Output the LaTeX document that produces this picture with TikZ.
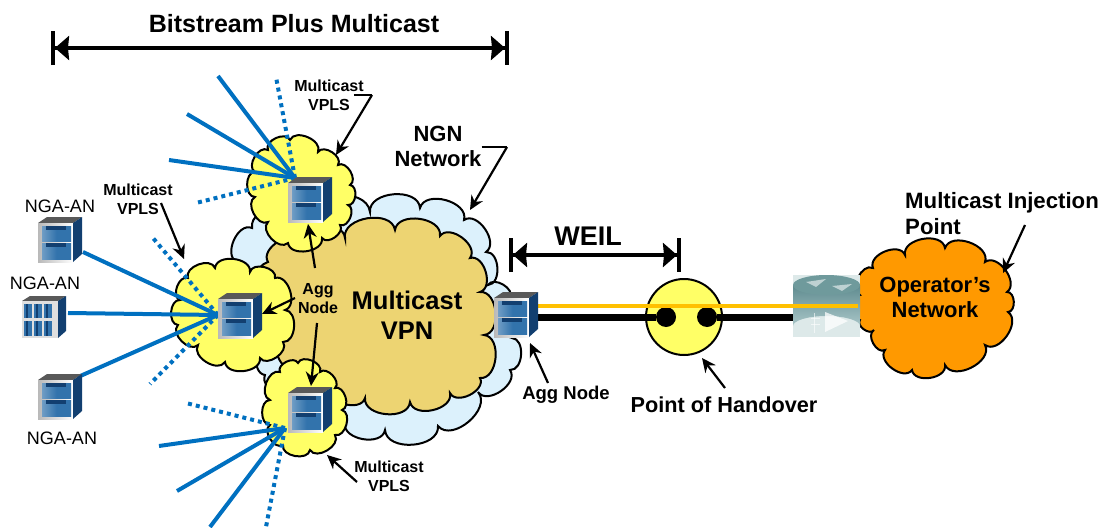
\documentclass[tikz,border=0pt]{standalone}
\usepackage{fontspec}
\setmainfont{Liberation Sans}
\usetikzlibrary{arrows.meta,calc}
\definecolor{lblue}{HTML}{DCF1FC}
\definecolor{tan}{HTML}{EDD472}
\definecolor{yell}{HTML}{FFFF66}
\definecolor{oran}{HTML}{FF9900}
\definecolor{blu}{HTML}{0070C0}
\definecolor{gold}{HTML}{FFC000}
\definecolor{navy}{HTML}{123F70}
\definecolor{panel}{HTML}{3273AC}
\definecolor{rtop}{HTML}{5F8B8F}
\definecolor{rbot}{HTML}{A9C6C8}
\definecolor{rcap}{HTML}{6F9A9C}
\definecolor{rback}{HTML}{DDE9E9}
\newcommand\cloudshape[2]{%
  \gdef\cp{}%
  \foreach \x/\y [count=\i, remember=\x as \px, remember=\y as \py] in {#2}{%
    \ifnum\i=1 \xdef\sx{\x}\xdef\sy{\y}\else
      \pgfmathsetmacro\nx{0.42*(\y-\py)}%
      \pgfmathsetmacro\ny{-0.42*(\x-\px)}%
      \pgfmathsetmacro\ax{\px+\nx}\pgfmathsetmacro\ay{\py+\ny}%
      \pgfmathsetmacro\bx{\x+\nx}\pgfmathsetmacro\by{\y+\ny}%
      \xdef\cp{\cp .. controls (\ax,\ay) and (\bx,\by) .. (\x,\y) }%
    \fi}%
  \edef\tmp{\noexpand\path[cloudline,fill=#1] (\sx,\sy) \cp -- cycle;}\tmp}
\tikzset{
  cloudline/.style={draw=black,line width=2pt},
  solidray/.style={blu,line width=4pt},
  dotray/.style={blu,line width=4pt,dash pattern=on 4pt off 4pt},
  pointer/.style={draw=black,line width=2.2pt,-{Stealth[length=14pt,width=13pt]}},
  span/.style={line width=3.8pt,{Bar[width=34pt,line width=4pt]Stealth[length=14pt,width=24pt,inset=1pt]}-{Stealth[length=14pt,width=24pt,inset=1pt]Bar[width=34pt,line width=4pt]}},
  lab/.style={font=\bfseries\fontsize{16}{19}\selectfont,align=center,inner sep=0pt},
  reg/.style={font=\fontsize{18}{21}\selectfont,inner sep=0pt},
  big/.style={font=\bfseries\fontsize{22}{25}\selectfont,align=center,inner sep=0pt},
  spot/.style={inner sep=0pt,minimum size=44pt},
  server/.pic={
    \fill[gray!70!black] (-22,-17) -- (-13,-23) -- (22,-23) -- (13,-17) -- cycle;
    \shade[left color=gray!55,right color=white] (-22,-17) rectangle (13,22);
    \fill[navy] (13,-17) -- (22,-23) -- (22,14) -- (13,22) -- cycle;
    \shade[left color=panel!70!white,right color=panel,middle color=panel] (-18,-14) rectangle (11,1);
    \shade[left color=panel!70!white,right color=panel,middle color=panel] (-18,3) rectangle (11,19);
    \fill[navy] (-14,-14) rectangle (6,-10);
    \fill[navy] (-14,3) rectangle (6,7);
  },
  rackserver/.pic={
    \fill[gray!70!black] (-22,-16) -- (-14,-21) -- (22,-21) -- (14,-16) -- cycle;
    \fill[gray!25] (-22,-16) rectangle (14,21);
    \fill[navy] (14,-16) -- (22,-21) -- (22,14) -- (14,21) -- cycle;
    \foreach \c in {-20,-10,0}{
      \fill[panel] (\c,-13) rectangle ++(8,14);
      \fill[panel] (\c,4) rectangle ++(8,15);
      \fill[navy] (\c+2,-13) rectangle ++(2,14);
      \fill[navy] (\c+2,4) rectangle ++(2,15);
    }
  }
}
\begin{document}
\begin{tikzpicture}[x=1pt,y=-1pt]
\useasboundingbox (0,0) rectangle (1099,527);
% named places
\node[spot] (nga1) at (60,240) {};
\node[spot] (nga2) at (44,317) {};
\node[spot] (nga3) at (60,397) {};
\node[spot] (aggtop) at (310,200) {};
\node[spot] (aggleft) at (240,316) {};
\node[spot] (aggbot) at (310,410) {};
\node[spot] (aggright) at (516,315) {};
\coordinate (hubT) at (295,178);
\coordinate (hubL) at (218,315);
\coordinate (hubB) at (285,428);
% clouds
\cloudshape{lblue}{237/262,252/228,305/220,370/212,420/208,464/220,486/252,488/285,510/298,512/338,510/370,478/392,438/426,385/430,345/423,300/390,265/375,270/340,237/262}
\cloudshape{tan}{268/262,300/242,345/238,395/230,440/236,470/258,480/292,484/335,480/378,450/393,410/402,365/398,330/388,292/368,287/325,268/262}
\cloudshape{yell}{255/172,268/150,290/140,318/152,338/165,350/185,348/205,340/225,322/238,288/243,268/222,255/197,255/172}
\cloudshape{yell}{180/300,188/278,215/268,250/272,275/278,285/310,283/342,260/358,225/362,198/345,178/325,180/300}
\cloudshape{yell}{270/400,280/372,298/363,320/372,335/388,342/410,335/435,310/450,283/445,270/425,270/400}
\cloudshape{oran}{860/295,873/268,905/255,945/248,985/262,1007/292,1008/312,985/345,945/365,912/370,885/350,874/330,860/320,860/295}
% rays
\coordinate (r1) at (218,76); \coordinate (r2) at (187,114); \coordinate (r3) at (169,160);
\coordinate (d1) at (276,77); \coordinate (d2) at (196,203);
\coordinate (r4) at (159,446); \coordinate (r5) at (177,491); \coordinate (r6) at (210,527);
\coordinate (d3) at (186,403); \coordinate (d4) at (266,527);
\coordinate (d5) at (153,238); \coordinate (d6) at (150,384);
\foreach \e in {r1,r2,r3} \draw[solidray] (hubT) -- (\e);
\foreach \e in {d1,d2} \draw[dotray] (hubT) -- (\e);
\foreach \e in {r4,r5,r6} \draw[solidray] (hubB) -- (\e);
\foreach \e in {d3,d4} \draw[dotray] (hubB) -- (\e);
\foreach \e in {d5,d6} \draw[dotray] (hubL) -- (\e);
\coordinate (n1) at (83,252); \coordinate (n2) at (68,313); \coordinate (n3) at (78,377);
\foreach \e in {n1,n2,n3} \draw[solidray] (hubL) -- (\e);
% servers
\pic at (nga1) {server};
\pic at (nga2) {rackserver};
\pic at (nga3) {server};
\pic at (aggtop) {server};
\pic at (aggleft) {server};
\pic at (aggbot) {server};
% handover and links
\node[draw=black,line width=2pt,fill=yell,circle,minimum size=76pt,inner sep=0pt] (poh) at (684,317) {};
\node[fill=black,circle,minimum size=20pt,inner sep=0pt] (dotA) at (666,317) {};
\node[fill=black,circle,minimum size=20pt,inner sep=0pt] (dotB) at (707,317) {};
\node[inner sep=0pt,minimum width=67pt,minimum height=62pt] (router) at (826.5,306) {};
\draw[black,line width=7pt] (aggright.east |- poh.center) -- (dotA);
\draw[black,line width=7pt] (dotB) -- (router.west |- poh.center);
\fill[rback] (793,275) rectangle (860,337);
\shade[top color=rtop,bottom color=rbot] (793,285) -- (793,326) arc[start angle=180,end angle=360,x radius=33.5,y radius=10] -- (860,285) -- cycle;
\fill[rcap] (826.5,285) ellipse[x radius=33.5,y radius=10];
\fill[white,opacity=.55] (806,282) -- (826,279) -- (816,287) -- cycle;
\fill[white,opacity=.55] (832,286) -- (852,284) -- (842,291) -- cycle;
\fill[white,opacity=.75] (825,312) -- (848,321) -- (825,332) -- cycle;
\draw[white,opacity=.6,line width=1pt] (814,313) -- (814,333);
\draw[white,opacity=.6,line width=1pt] (811,318) -- (820,318) (811,324) -- (820,324);
\coordinate (orangeEnd) at (858,306);
\draw[gold,line width=4pt] (aggright.east |- 0,306) -- (orangeEnd);
\pic at (aggright) {server};
% spans
\coordinate (spanA) at (51,48); \coordinate (spanB) at (509,48);
\coordinate (weilA) at (509,255); \coordinate (weilB) at (681,255);
\draw[span] (spanA) -- (spanB);
\draw[span] (weilA) -- (weilB);
% labels
\node[inner sep=0pt,font=\bfseries\fontsize{25}{29}\selectfont] (bpm) at (294,24) {Bitstream Plus Multicast};
\node[inner sep=0pt,font=\bfseries\fontsize{27}{31}\selectfont] (weil) at (588,236) {WEIL};
\node[lab] (vplsT) at (329,95) {Multicast\\VPLS};
\node[lab] (vplsL) at (138,199) {Multicast\\VPLS};
\node[lab] (vplsB) at (389,476) {Multicast\\VPLS};
\node[big] (ngn) at (438,146) {NGN\\Network};
\node[reg] (la1) at (60,206) {NGA-AN};
\node[reg] (la2) at (45,283) {NGA-AN};
\node[reg] (la3) at (62,438) {NGA-AN};
\node[lab] (aggc) at (318,299) {Agg\\Node};
\node[inner sep=0pt,align=center,font=\bfseries\fontsize{25.5}{30}\selectfont] (vpn) at (407,315) {Multicast\\VPN};
\node[inner sep=0pt,font=\bfseries\fontsize{18.5}{21}\selectfont] (aggr) at (566,395) {Agg Node};
\node[inner sep=0pt,font=\bfseries\fontsize{21.7}{25}\selectfont] (pohl) at (724,405) {Point of Handover};
\node[inner sep=0pt,align=left,anchor=north west,font=\bfseries\fontsize{22.2}{26}\selectfont] (inj) at (905,192) {Multicast Injection\\Point};
\node[big] (opn) at (935,297) {Operator’s\\Network};
% pointers
\coordinate (a1) at (372,95); \coordinate (a2) at (336,155);
\draw[line width=2.2pt] (vplsT.east |- a1) ++(-10,0) -- (a1);
\draw[pointer] (a1) -- (a2);
\coordinate (a3) at (161,203); \coordinate (a4) at (184,259);
\draw[pointer] (a3) -- (a4);
\coordinate (a5) at (507,147); \coordinate (a6) at (470,210);
\draw[line width=2.2pt] (ngn.east |- a5) -- (a5);
\draw[pointer] (a5) -- (a6);
\coordinate (a7) at (357,482); \coordinate (a8) at (327,455);
\draw[pointer] (a7) -- (a8);
\coordinate (b1) at (315,268); \coordinate (b2) at (308,224);
\draw[pointer] (b1) -- (b2);
\coordinate (b3) at (295,298); \coordinate (b4) at (262,314);
\draw[pointer] (b3) -- (b4);
\coordinate (b5) at (317,323); \coordinate (b6) at (311,386);
\draw[pointer] (b5) -- (b6);
\coordinate (c1) at (548,383); \coordinate (c2) at (530,343);
\draw[pointer] (c1) -- (c2);
\coordinate (c3) at (725,388); \coordinate (c4) at (702,358);
\draw[pointer] (c3) -- (c4);
\coordinate (c5) at (1025,225); \coordinate (c6) at (1003,273);
\draw[pointer] (c5) -- (c6);
\end{tikzpicture}
\end{document}
